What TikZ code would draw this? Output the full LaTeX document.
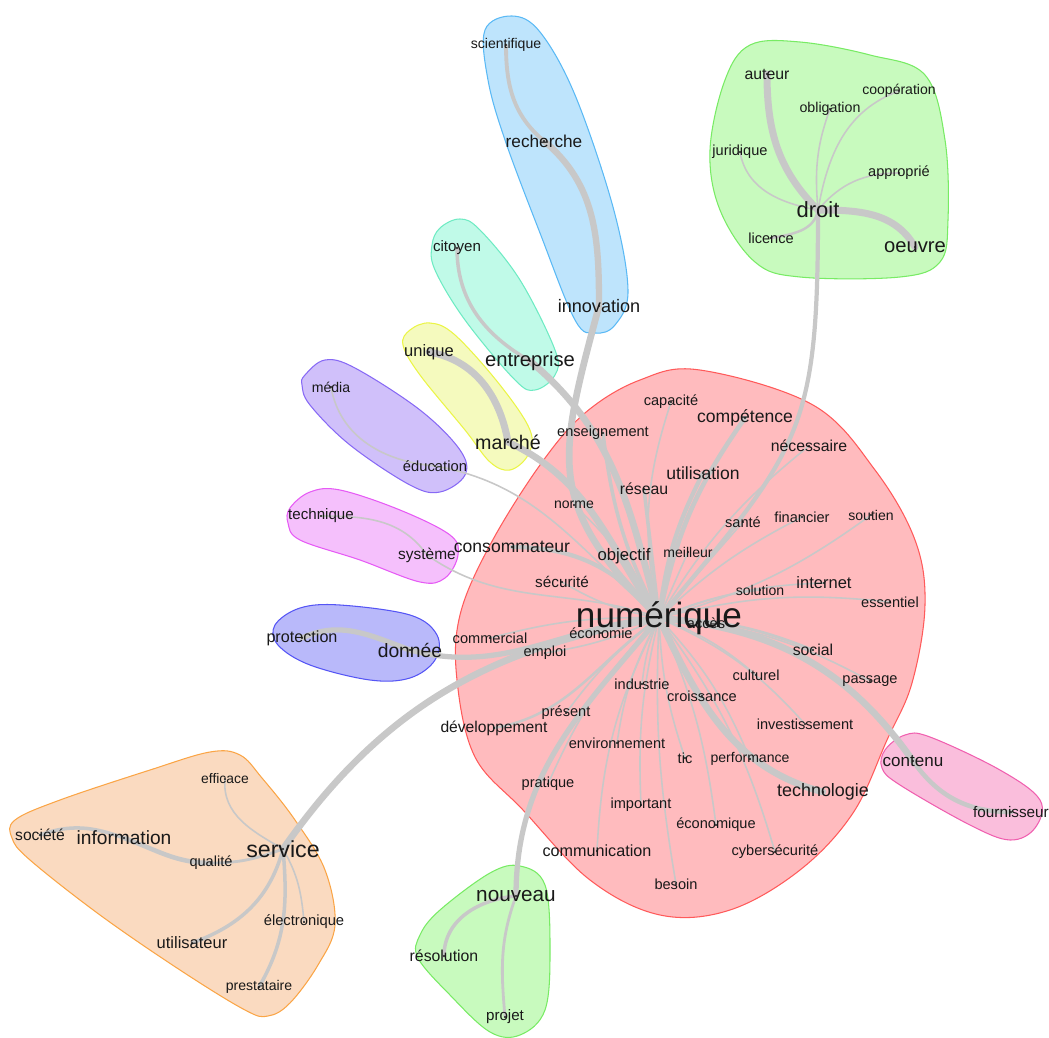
\documentclass[tikz,border=0pt]{standalone}
\usepackage{fontspec}
\setmainfont{Liberation Sans}
\usetikzlibrary{positioning}
\definecolor{edgegray}{RGB}{200,200,200}
\definecolor{wordgray}{RGB}{25,25,25}
\definecolor{numfill}{RGB}{255,187,190}
\definecolor{numline}{RGB}{255,90,90}
\definecolor{rechfill}{RGB}{190,228,252}
\definecolor{rechline}{RGB}{90,185,245}
\definecolor{entrfill}{RGB}{192,250,232}
\definecolor{entrline}{RGB}{110,235,195}
\definecolor{marchfill}{RGB}{245,250,190}
\definecolor{marchline}{RGB}{235,245,70}
\definecolor{mediafill}{RGB}{208,192,250}
\definecolor{medialine}{RGB}{135,105,245}
\definecolor{systfill}{RGB}{245,192,252}
\definecolor{systline}{RGB}{230,90,245}
\definecolor{donnfill}{RGB}{185,185,250}
\definecolor{donnline}{RGB}{85,85,245}
\definecolor{servfill}{RGB}{250,218,192}
\definecolor{servline}{RGB}{250,165,70}
\definecolor{greenfill}{RGB}{200,250,190}
\definecolor{greenline}{RGB}{120,235,100}
\definecolor{contfill}{RGB}{250,190,220}
\definecolor{contline}{RGB}{240,95,175}
\pgfdeclarelayer{hulls}
\pgfdeclarelayer{links}
\pgfsetlayers{hulls,links,main}
\tikzset{
  word/.style={inner sep=0pt, text=wordgray, font=\fontsize{#1}{#1}\selectfont},
  word/.default=8.3,
  lnk/.style={draw=edgegray, line width=#1, line cap=round},
  lnk/.default=0.9pt,
  hull/.style 2 args={draw=#1, fill=#2, line width=0.6pt},
}

\begin{document}
\begin{tikzpicture}[x=0.02cm, y=0.02cm]
  \useasboundingbox (0,-1038) rectangle (1049,0);

  % Cluster hulls
  \begin{pgfonlayer}{hulls}
    \draw[hull={numline}{numfill}] plot[smooth cycle, tension=0.6] coordinates {(700,-370) (813,-405) (875,-470) (915,-540) (925,-605) (912,-683) (887,-740) (853,-813) (800,-870) (730,-910) (660,-915) (590,-880) (523,-810) (475,-757) (457,-680) (460,-615) (490,-545) (540,-465) (585,-413) (640,-380)};
    \draw[hull={rechline}{rechfill}] plot[smooth cycle, tension=0.6] coordinates {(485,-30) (512,-16) (540,-32) (575,-95) (613,-207) (628,-290) (615,-325) (595,-333) (575,-320) (540,-233) (505,-140) (488,-80)};
    \draw[hull={entrline}{entrfill}] plot[smooth cycle, tension=0.6] coordinates {(440,-228) (460,-219) (480,-230) (520,-280) (555,-350) (555,-375) (535,-390) (515,-380) (465,-320) (435,-270) (432,-245)};
    \draw[hull={marchline}{marchfill}] plot[smooth cycle, tension=0.6] coordinates {(410,-330) (430,-323) (455,-335) (500,-385) (530,-430) (528,-455) (510,-470) (490,-462) (465,-430) (420,-375) (403,-345)};
    \draw[hull={medialine}{mediafill}] plot[smooth cycle, tension=0.6] coordinates {(305,-375) (325,-360) (355,-368) (420,-410) (460,-450) (465,-475) (440,-492) (410,-485) (350,-445) (310,-405) (302,-385)};
    \draw[hull={systline}{systfill}] plot[smooth cycle, tension=0.6] coordinates {(290,-508) (310,-492) (340,-490) (400,-510) (450,-535) (458,-555) (445,-578) (420,-582) (360,-560) (300,-540) (288,-523)};
    \draw[hull={donnline}{donnfill}] plot[smooth cycle, tension=0.6] coordinates {(275,-625) (300,-608) (340,-605) (410,-615) (437,-635) (435,-660) (410,-678) (370,-680) (310,-665) (278,-645)};
    \draw[hull={servline}{servfill}] plot[smooth cycle, tension=0.6] coordinates {(15,-820) (60,-800) (150,-770) (210,-752) (240,-755) (262,-778) (295,-820) (325,-870) (335,-925) (318,-965) (290,-1003) (268,-1016) (245,-1010) (180,-970) (100,-915) (30,-860) (12,-838)};
    \draw[hull={greenline}{greenfill}] plot[smooth cycle, tension=0.6] coordinates {(440,-910) (490,-873) (520,-866) (545,-885) (550,-950) (545,-1010) (520,-1035) (490,-1032) (450,-995) (418,-958) (420,-935)};
    \draw[hull={greenline}{greenfill}] plot[smooth cycle, tension=0.6] coordinates {(750,-45) (800,-42) (870,-55) (925,-75) (945,-140) (948,-220) (940,-262) (900,-277) (800,-277) (755,-262) (720,-210) (710,-150) (725,-80)};
    \draw[hull={contline}{contfill}] plot[smooth cycle, tension=0.6] coordinates {(885,-750) (905,-735) (930,-737) (1000,-770) (1040,-800) (1035,-828) (1010,-840) (970,-825) (900,-785) (882,-768)};
  \end{pgfonlayer}

  % numérique cluster
  \node[word=20] (num) at (659,-618) {numérique};
  \node[word] (capacite) at (671,-402) {capacité};
  \node[word=10] (competence) at (745,-418) {compétence};
  \node[word] (enseignement) at (603,-433) {enseignement};
  \node[word=9] (necessaire) at (809,-446) {nécessaire};
  \node[word=10] (utilisation) at (703,-473) {utilisation};
  \node[word=9] (reseau) at (644,-489) {réseau};
  \node[word=8] (norme) at (574,-505) {norme};
  \node[word] (sante) at (743,-522) {santé};
  \node[word] (financier) at (802,-517) {financier};
  \node[word=8] (soutien) at (871,-515) {soutien};
  \node[word=10] (consommateur) at (512,-547) {consommateur};
  \node[word=9.5] (objectif) at (624,-556) {objectif};
  \node[word=8] (meilleur) at (688,-552) {meilleur};
  \node[word=8.7] (securite) at (562,-582) {sécurité};
  \node[word=8] (solution) at (760,-590) {solution};
  \node[word=9.4] (internet) at (824,-583) {internet};
  \node[word] (essentiel) at (890,-602) {essentiel};
  \node[word] (acces) at (706,-623) {accès};
  \node[word] (economie) at (601,-633) {économie};
  \node[word] (commercial) at (490,-638) {commercial};
  \node[word] (emploi) at (545,-653) {emploi};
  \node[word=9] (social) at (813,-650) {social};
  \node[word] (industrie) at (642,-684) {industrie};
  \node[word] (culturel) at (756,-675) {culturel};
  \node[word] (passage) at (870,-681) {passage};
  \node[word] (croissance) at (702,-696) {croissance};
  \node[word] (present) at (566,-713) {présent};
  \node[word=8.9] (developpement) at (494,-728) {développement};
  \node[word] (investissement) at (805,-724) {investissement};
  \node[word] (environnement) at (617,-743) {environnement};
  \node[word] (tic) at (685,-758) {tic};
  \node[word=8] (performance) at (750,-759) {performance};
  \node[word] (pratique) at (548,-784) {pratique};
  \node[word=10.2] (technologie) at (823,-792) {technologie};
  \node[word] (important) at (641,-805) {important};
  \node[word] (economique) at (716,-825) {économique};
  \node[word=9.2] (communication) at (597,-851) {communication};
  \node[word] (cybersecurite) at (775,-852) {cybersécurité};
  \node[word] (besoin) at (676,-884) {besoin};

  % recherche / entreprise / marché / média / système / donnée
  \node[word=8] (scientifique) at (506,-45) {scientifique};
  \node[word=9.8] (recherche) at (544,-141) {recherche};
  \node[word=10.3] (innovation) at (599,-306) {innovation};
  \node[word=8.6] (citoyen) at (457,-248) {citoyen};
  \node[word=11.5] (entreprise) at (530,-361) {entreprise};
  \node[word=9.4] (unique) at (429,-352) {unique};
  \node[word=11.2] (marche) at (508,-442) {marché};
  \node[word=8] (media) at (331,-387) {média};
  \node[word=8.4] (education) at (435,-466) {éducation};
  \node[word=8.6] (technique) at (321,-516) {technique};
  \node[word=8.8] (systeme) at (427,-555) {système};
  \node[word=9.2] (protection) at (302,-638) {protection};
  \node[word=11] (donnee) at (410,-650) {donnée};

  % service cluster
  \node[word=7.9] (efficace) at (225,-779) {efficace};
  \node[word=8.9] (societe) at (40,-835) {société};
  \node[word=10.9] (information) at (124,-838) {information};
  \node[word=13.2] (service) at (283,-849) {service};
  \node[word] (qualite) at (211,-863) {qualité};
  \node[word=8.4] (electronique) at (304,-922) {électronique};
  \node[word=9.4] (utilisateur) at (192,-943) {utilisateur};
  \node[word=8] (prestataire) at (259,-987) {prestataire};

  % nouveau cluster
  \node[word=11.8] (nouveau) at (516,-896) {nouveau};
  \node[word=9] (resolution) at (444,-956) {résolution};
  \node[word=8.6] (projet) at (505,-1017) {projet};

  % droit cluster
  \node[word=9] (auteur) at (767,-74) {auteur};
  \node[word=8] (cooperation) at (899,-91) {coopération};
  \node[word=8.1] (obligation) at (830,-109) {obligation};
  \node[word] (juridique) at (740,-152) {juridique};
  \node[word] (approprie) at (899,-173) {approprié};
  \node[word=12.5] (droit) at (818,-210) {droit};
  \node[word] (licence) at (771,-238) {licence};
  \node[word=11.5] (oeuvre) at (915,-247) {oeuvre};

  % contenu cluster
  \node[word=9.7] (contenu) at (913,-761) {contenu};
  \node[word=8.7] (fournisseur) at (1011,-812) {fournisseur};

  \begin{pgfonlayer}{links}
    % links leaving numérique
    \draw[lnk=3.8pt] (num.center) to[out=135,in=-105,looseness=1.3] (innovation.center);
    \draw[lnk=3.8pt] (num.center) to[out=105,in=-40] (entreprise.center);
    \draw[lnk=3.8pt] (num.center) to[out=125,in=-25] (marche.center);
    \draw[lnk] (num.center) to[out=140,in=-10] (education.center);
    \draw[lnk] (num.center) to[out=160,in=-35] (systeme.center);
    \draw[lnk=2.4pt] (num.center) to[out=130,in=0] (consommateur.center);
    \draw[lnk=3pt] (num.center) to[out=185,in=-15] (donnee.center);
    \draw[lnk=3.8pt] (num.center) to[out=190,in=55] (service.center);
    \draw[lnk=3pt] (num.center) to[out=230,in=90] (nouveau.center);
    \draw[lnk=1.4pt] (num.center) to[out=215,in=10] (developpement.center);
    \draw[lnk=3.8pt] (num.center) to[out=-65,in=165] (technologie.center);
    \draw[lnk=3.8pt] (num.center) to[out=-5,in=125] (contenu.center);
    \draw[lnk=2.4pt] (num.center) to[out=50,in=-90,looseness=1.3] (droit.center);

    % links inside numérique
    \draw[lnk] (num.center) to[bend left=15] (capacite.center);
    \draw[lnk=2.6pt] (num.center) to[bend left=12] (competence.center);
    \draw[lnk=2pt] (num.center) to[bend left=10] (enseignement.center);
    \draw[lnk] (num.center) to[bend left=10] (necessaire.center);
    \draw[lnk=2.4pt] (num.center) to[bend left=10] (utilisation.center);
    \draw[lnk=2pt] (num.center) -- (reseau.center);
    \draw[lnk] (num.center) to[bend right=10] (norme.center);
    \draw[lnk] (num.center) -- (sante.center);
    \draw[lnk] (num.center) to[bend left=8] (financier.center);
    \draw[lnk] (num.center) to[bend right=10] (soutien.center);
    \draw[lnk=2pt] (num.center) -- (objectif.center);
    \draw[lnk] (num.center) -- (meilleur.center);
    \draw[lnk] (num.center) to[bend left=10] (securite.center);
    \draw[lnk] (num.center) to[bend left=8] (solution.center);
    \draw[lnk] (num.center) to[bend left=10] (internet.center);
    \draw[lnk] (num.center) to[bend left=10] (essentiel.center);
    \draw[lnk] (num.center) -- (acces.center);
    \draw[lnk] (num.center) -- (economie.center);
    \draw[lnk] (num.center) to[bend right=8] (commercial.center);
    \draw[lnk] (num.center) to[bend left=8] (emploi.center);
    \draw[lnk=1.6pt] (num.center) to[bend left=10] (social.center);
    \draw[lnk] (num.center) to[bend right=8] (industrie.center);
    \draw[lnk] (num.center) to[bend left=10] (culturel.center);
    \draw[lnk] (num.center) to[bend left=12] (passage.center);
    \draw[lnk] (num.center) to[bend right=8] (croissance.center);
    \draw[lnk] (num.center) to[bend right=8] (present.center);
    \draw[lnk] (num.center) to[bend left=12] (investissement.center);
    \draw[lnk] (num.center) to[bend right=10] (environnement.center);
    \draw[lnk] (num.center) to[bend right=8] (tic.center);
    \draw[lnk] (num.center) to[bend left=10] (performance.center);
    \draw[lnk] (num.center) to[bend right=10] (pratique.center);
    \draw[lnk] (num.center) to[bend right=8] (important.center);
    \draw[lnk] (num.center) to[bend left=8] (economique.center);
    \draw[lnk] (num.center) to[bend right=12] (communication.center);
    \draw[lnk] (num.center) to[bend left=10] (cybersecurite.center);
    \draw[lnk] (num.center) to[bend right=6] (besoin.center);

    % links inside the other clusters
    \draw[lnk=2.2pt] (scientifique.center) to[out=-90,in=140] (recherche.center);
    \draw[lnk=3.6pt] (recherche.center) to[out=-40,in=90] (innovation.center);
    \draw[lnk=2pt] (citoyen.center) to[out=-90,in=150] (entreprise.center);
    \draw[lnk=4pt] (unique.center) to[out=-10,in=100] (marche.center);
    \draw[lnk] (media.center) to[out=-80,in=175] (education.center);
    \draw[lnk] (technique.center) to[out=0,in=125] (systeme.center);
    \draw[lnk=3pt] (protection.center) to[out=25,in=160] (donnee.center);
    \draw[lnk=2pt] (societe.center) to[out=20,in=160] (information.center);
    \draw[lnk=2.6pt] (information.center) to[out=-20,in=180] (qualite.center);
    \draw[lnk=1.6pt] (qualite.center) to[out=0,in=-160] (service.center);
    \draw[lnk] (efficace.center) to[out=-95,in=150] (service.center);
    \draw[lnk=2pt] (utilisateur.center) to[out=20,in=-105] (service.center);
    \draw[lnk=2pt] (prestataire.center) to[out=60,in=-85] (service.center);
    \draw[lnk] (electronique.center) to[out=95,in=-60] (service.center);
    \draw[lnk=2pt] (resolution.center) to[out=90,in=185] (nouveau.center);
    \draw[lnk=1.6pt] (projet.center) to[out=95,in=-110] (nouveau.center);
    \draw[lnk=2.6pt] (contenu.center) to[out=-55,in=180] (fournisseur.center);
    \draw[lnk=4pt] (auteur.center) to[out=-90,in=135] (droit.center);
    \draw[lnk=4pt] (droit.center) to[out=0,in=120] (oeuvre.center);
    \draw[lnk] (juridique.center) to[out=-80,in=170] (droit.center);
    \draw[lnk] (obligation.center) to[out=-110,in=95] (droit.center);
    \draw[lnk] (cooperation.center) to[out=200,in=80] (droit.center);
    \draw[lnk] (approprie.center) to[out=180,in=50] (droit.center);
    \draw[lnk=1.4pt] (licence.center) to[out=10,in=-100] (droit.center);
  \end{pgfonlayer}

  % word dots
  \foreach \w in {num,capacite,competence,enseignement,necessaire,utilisation,reseau,norme,sante,financier,soutien,consommateur,objectif,meilleur,securite,solution,internet,essentiel,acces,economie,commercial,emploi,social,industrie,culturel,passage,croissance,present,developpement,investissement,environnement,tic,performance,pratique,technologie,important,economique,communication,cybersecurite,besoin,scientifique,recherche,innovation,citoyen,entreprise,unique,marche,media,education,technique,systeme,protection,donnee,efficace,societe,information,service,qualite,electronique,utilisateur,prestataire,nouveau,resolution,projet,auteur,cooperation,obligation,juridique,approprie,droit,licence,oeuvre,contenu,fournisseur}
    \fill[wordgray] (\w.center) circle (0.7pt);
\end{tikzpicture}
\end{document}
